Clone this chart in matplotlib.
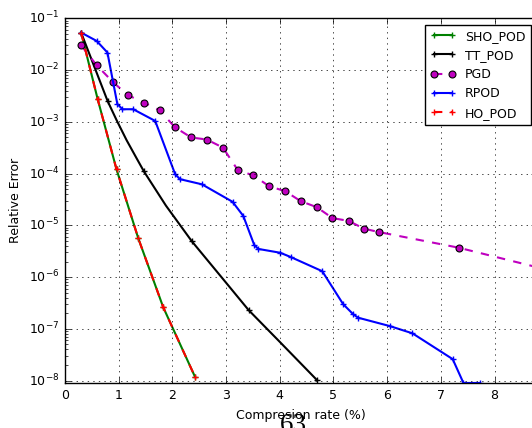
import matplotlib
matplotlib.use('Agg')
import matplotlib.pyplot as plt

plt.style.use('classic')
plt.rcParams['font.size'] = 9
plt.rcParams['figure.facecolor'] = 'white'
plt.rcParams['savefig.facecolor'] = 'white'

# SHO_POD / HO_POD (same values)
ho_x = [0.30, 0.61, 0.96, 1.365, 1.83, 2.42]
ho_y = [0.053, 2.7e-3, 1.2e-4, 5.6e-6, 2.6e-7, 1.19e-8]

# TT_POD (markers only on some points)
tt_x = [0.30, 0.795, 0.962, 1.148, 1.335, 1.47, 1.88, 2.36, 3.01, 3.42, 4.0, 4.69]
tt_y = [0.053, 2.5e-3, 1.07e-3, 4.4e-4, 1.96e-4, 1.1e-4, 2.4e-5, 4.95e-6, 7.55e-7, 2.3e-7, 5.6e-8, 1.03e-8]
tt_marks = [0, 1, 5, 7, 9, 11]

# PGD
pgd_x = [0.30, 0.59, 0.89, 1.17, 1.47, 1.76, 2.05, 2.35, 2.64, 2.94, 3.22, 3.51,
         3.80, 4.10, 4.39, 4.69, 4.98, 5.28, 5.57, 5.85, 7.33, 9.0]
pgd_y = [0.030, 0.0124, 5.9e-3, 3.27e-3, 2.36e-3, 1.67e-3, 7.8e-4, 4.98e-4, 4.55e-4,
         3.18e-4, 1.16e-4, 9.2e-5, 5.7e-5, 4.57e-5, 2.93e-5, 2.24e-5, 1.38e-5,
         1.22e-5, 8.6e-6, 7.4e-6, 3.7e-6, 1.37e-6]

# RPOD
rpod_x = [0.30, 0.59, 0.79, 0.975, 1.07, 1.27, 1.68, 2.05, 2.14, 2.55, 3.12, 3.32,
          3.525, 3.60, 4.01, 4.20, 4.79, 5.18, 5.37, 5.46, 6.05, 6.47, 7.22, 7.42, 7.72]
rpod_y = [0.053, 0.0365, 0.0218, 2.2e-3, 1.75e-3, 1.75e-3, 1.04e-3, 9.8e-5, 7.8e-5,
          6.2e-5, 2.85e-5, 1.52e-5, 4.15e-6, 3.5e-6, 2.95e-6, 2.45e-6, 1.3e-6, 3.0e-7,
          1.9e-7, 1.64e-7, 1.13e-7, 8.2e-8, 2.6e-8, 9e-9, 9e-9]

fig = plt.figure(figsize=(5.32, 4.28), dpi=100)
ax1 = fig.add_axes([65/532, 1-383.3/428, 472/532, (383.3-18.3)/428])

ax1.semilogy(ho_x, ho_y, 'g-+', lw=1.5, ms=5, mew=1, label='SHO_POD')
ax1.semilogy(tt_x, tt_y, 'k-+', lw=1.5, ms=5, mew=1, markevery=tt_marks, label='TT_POD')
ax1.semilogy(pgd_x, pgd_y, 'm--o', lw=1.5, ms=5, mec='k', mew=0.8, label='PGD')
ax1.semilogy(rpod_x, rpod_y, 'b-+', lw=1.5, ms=5, mew=1, label='RPOD')
ax1.semilogy(ho_x, ho_y, 'r--+', lw=1.5, ms=5, mew=1, label='HO_POD')

ax1.set_xlim(0, 8.79)
ax1.set_ylim(8.87e-9, 0.1)
ax1.set_xticks([0, 1, 2, 3, 4, 5, 6, 7, 8])
ax1.grid(True)
ax1.set_xlabel('Compresion rate (%)')
ax1.set_ylabel('Relative Error')
ax1.legend(loc='upper right', fontsize=9)

fig.text(293.5/532, -4/428, '63', family='Liberation Serif', fontsize=19.5,
         ha='center', va='baseline')

fig.savefig('out.png', dpi=100)
